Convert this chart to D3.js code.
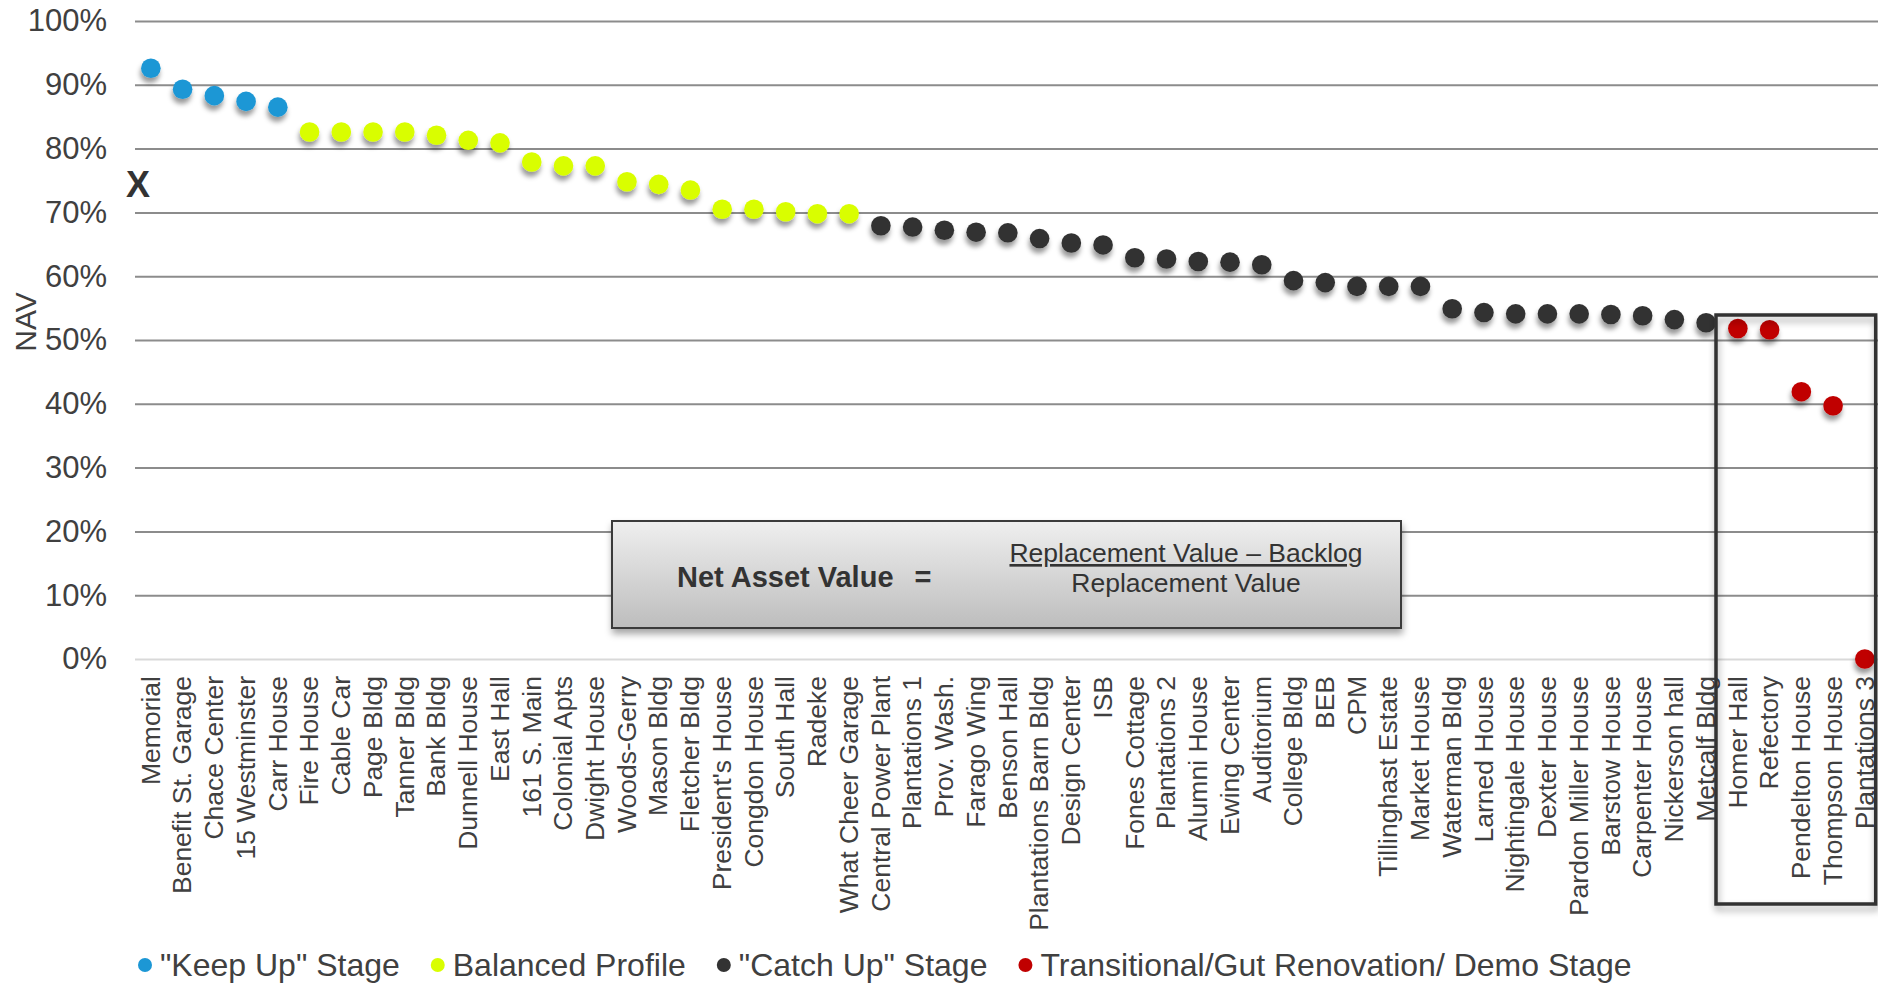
<!DOCTYPE html>
<html>
<head>
<meta charset="utf-8">
<script src="https://cdn.jsdelivr.net/npm/d3@7"></script>
<style>
  html, body { margin: 0; padding: 0; background: #fff; overflow: hidden; }
  svg { display: block; font-family: "Liberation Sans", Arial, Helvetica, sans-serif; }
</style>
</head>
<body>
<svg id="chart" width="1878" height="985"></svg>
<script>
// Buildings in ranked order, with their Net Asset Value (share of replacement value)
const buildings = [
  "Memorial", "Benefit St. Garage", "Chace Center", "15 Westminster", "Carr House",
  "Fire House", "Cable Car", "Page Bldg", "Tanner Bldg", "Bank Bldg", "Dunnell House",
  "East Hall", "161 S. Main", "Colonial Apts", "Dwight House", "Woods-Gerry", "Mason Bldg",
  "Fletcher Bldg", "President's House", "Congdon House", "South Hall", "Radeke",
  "What Cheer Garage", "Central Power Plant", "Plantations 1", "Prov. Wash.", "Farago Wing",
  "Benson Hall", "Plantations Barn Bldg", "Design Center", "ISB", "Fones Cottage",
  "Plantations 2", "Alumni House", "Ewing Center", "Auditorium", "College Bldg", "BEB",
  "CPM", "Tillinghast Estate", "Market House", "Waterman Bldg", "Larned House",
  "Nightingale House", "Dexter House", "Pardon Miller House", "Barstow House",
  "Carpenter House", "Nickerson hall", "Metcalf Bldg", "Homer Hall", "Refectory",
  "Pendelton House", "Thompson House", "Plantations 3"
];

const navValues = [
  0.926, 0.893, 0.883, 0.874, 0.865,
  0.826, 0.826, 0.826, 0.826, 0.821, 0.813,
  0.809, 0.779, 0.773, 0.773, 0.748, 0.744,
  0.735, 0.705, 0.705, 0.701, 0.698,
  0.698, 0.679, 0.677, 0.672, 0.669,
  0.668, 0.659, 0.652, 0.649, 0.629,
  0.627, 0.623, 0.622, 0.618, 0.593, 0.590,
  0.584, 0.584, 0.584, 0.549, 0.543,
  0.541, 0.541, 0.541, 0.540,
  0.538, 0.532, 0.527, 0.518, 0.516,
  0.419, 0.397, 0.000
];

// Lifecycle stage of each building (same order as above)
const buildingStages = [
  "keep", "keep", "keep", "keep", "keep",
  "balanced", "balanced", "balanced", "balanced", "balanced", "balanced",
  "balanced", "balanced", "balanced", "balanced", "balanced", "balanced",
  "balanced", "balanced", "balanced", "balanced", "balanced",
  "balanced", "catch", "catch", "catch", "catch",
  "catch", "catch", "catch", "catch", "catch",
  "catch", "catch", "catch", "catch", "catch", "catch",
  "catch", "catch", "catch", "catch", "catch",
  "catch", "catch", "catch", "catch",
  "catch", "catch", "catch", "transition", "transition",
  "transition", "transition", "transition"
];

const stageKeys   = ["keep", "balanced", "catch", "transition"];
const stageLabels = ["\"Keep Up\" Stage", "Balanced Profile", "\"Catch Up\" Stage", "Transitional/Gut Renovation/ Demo Stage"];
const stageColors = ["#1c97d5", "#d9fe00", "#333333", "#c00000"];

const yTicks = [0, 0.1, 0.2, 0.3, 0.4, 0.5, 0.6, 0.7, 0.8, 0.9, 1.0];
const targetNav = 0.745;          // marked with an "X" beside the axis
const transitionGroup = ["Homer Hall", "Plantations 3"]; // first and last of the boxed group

const W = 1878, H = 985;
const plotLeft = 135, bandStep = 31.74;
const svg = d3.select("#chart");
const textColor = "#404040";

const x = d3.scaleBand()
  .domain(buildings)
  .range([plotLeft, plotLeft + bandStep * buildings.length])
  .padding(0);
const y = d3.scaleLinear().domain([0, 1]).range([659, 21]);
const color = d3.scaleOrdinal().domain(stageKeys).range(stageColors);

// Filters for the soft drop shadows
const defs = svg.append("defs");
const dotShadow = defs.append("filter").attr("id", "dotShadow")
  .attr("x", "-60%").attr("y", "-60%").attr("width", "220%").attr("height", "240%");
dotShadow.append("feDropShadow").attr("dx", -1).attr("dy", 5).attr("stdDeviation", 2.5)
  .attr("flood-color", "#000").attr("flood-opacity", 0.4);
const boxShadow = defs.append("filter").attr("id", "boxShadow")
  .attr("x", "-5%").attr("y", "-10%").attr("width", "112%").attr("height", "130%");
boxShadow.append("feDropShadow").attr("dx", 1).attr("dy", 5).attr("stdDeviation", 3.5)
  .attr("flood-color", "#000").attr("flood-opacity", 0.35);
const grad = defs.append("linearGradient").attr("id", "boxFill")
  .attr("x1", 0).attr("y1", 0).attr("x2", 0).attr("y2", 1);
grad.append("stop").attr("offset", "0%").attr("stop-color", "#efefef");
grad.append("stop").attr("offset", "100%").attr("stop-color", "#bdbdbd");

// Y axis with full-width gridlines
const yAxis = svg.append("g")
  .attr("transform", `translate(${plotLeft},0)`)
  .call(d3.axisLeft(y)
    .tickValues(yTicks)
    .tickSize(-(W - plotLeft + 10))
    .tickPadding(28)
    .tickFormat(d3.format(".0%")));
yAxis.select(".domain").remove();
yAxis.selectAll(".tick line")
  .attr("stroke", d => d === 0 ? "#d9d9d9" : "#8c8c8c")
  .attr("stroke-width", 2);
yAxis.selectAll(".tick text")
  .attr("fill", textColor)
  .style("font-size", "31px");

// Axis title
svg.append("text")
  .attr("transform", "translate(36,322) rotate(-90)")
  .attr("text-anchor", "middle")
  .attr("fill", textColor)
  .style("font-size", "30px")
  .text("NAV");

// Target marker
svg.append("text")
  .attr("x", 138)
  .attr("y", y(targetNav))
  .attr("dy", "0.36em")
  .attr("text-anchor", "middle")
  .attr("fill", "#333")
  .style("font-size", "36px")
  .style("font-weight", "bold")
  .text("X");

// Building labels
const xAxis = svg.append("g")
  .attr("transform", `translate(0,${y(0)})`)
  .call(d3.axisBottom(x).tickSize(0));
xAxis.select(".domain").remove();
xAxis.selectAll(".tick text")
  .attr("transform", "rotate(-90)")
  .attr("x", -17)
  .attr("y", 0)
  .attr("dy", "0.33em")
  .attr("text-anchor", "end")
  .attr("fill", textColor)
  .style("font-size", "26.5px");

// Formula annotation
const fx = 612, fy = 521, fw = 789, fh = 107;
const formula = svg.append("g");
formula.append("rect")
  .attr("x", fx).attr("y", fy).attr("width", fw).attr("height", fh)
  .attr("fill", "url(#boxFill)")
  .attr("stroke", "#3a3a3a").attr("stroke-width", 2)
  .attr("filter", "url(#boxShadow)");
formula.append("text")
  .attr("x", 677).attr("y", 587)
  .attr("fill", "#333")
  .style("font-size", "29px").style("font-weight", "bold")
  .text("Net Asset Value");
formula.append("text")
  .attr("x", 923).attr("y", 587)
  .attr("text-anchor", "middle")
  .attr("fill", "#333")
  .style("font-size", "29px").style("font-weight", "bold")
  .text("=");
formula.append("text")
  .attr("x", 1186).attr("y", 562)
  .attr("text-anchor", "middle")
  .attr("fill", "#333")
  .style("font-size", "26.5px")
  .style("text-decoration", "underline")
  .text("Replacement Value \u2013 Backlog");
formula.append("text")
  .attr("x", 1186).attr("y", 592)
  .attr("text-anchor", "middle")
  .attr("fill", "#333")
  .style("font-size", "26.5px")
  .text("Replacement Value");

// Data points
const points = buildings.map((b, i) => ({ name: b, value: navValues[i], stage: buildingStages[i] }));
svg.append("g")
  .selectAll("circle")
  .data(points)
  .join("circle")
  .attr("cx", d => x(d.name) + x.bandwidth() / 2)
  .attr("cy", d => y(d.value))
  .attr("r", 9.8)
  .attr("fill", d => color(d.stage))
  .attr("filter", "url(#dotShadow)");

// Box around the transitional group
const gx0 = x(transitionGroup[0]) - 6;
const gx1 = x(transitionGroup[1]) + x.bandwidth() - 5;
svg.append("rect")
  .attr("x", gx0).attr("y", 315)
  .attr("width", gx1 - gx0).attr("height", 904 - 315)
  .attr("fill", "none")
  .attr("stroke", "#333").attr("stroke-width", 3.5)
  .attr("filter", "url(#boxShadow)");

// Legend
const legend = svg.append("g").attr("transform", "translate(0,965)");
let lx = 145;
stageKeys.forEach((k, i) => {
  const item = legend.append("g");
  item.append("circle").attr("cx", lx).attr("cy", 0).attr("r", 7).attr("fill", stageColors[i]);
  const t = item.append("text")
    .attr("x", lx + 15).attr("y", 0).attr("dy", "0.35em")
    .attr("fill", textColor)
    .style("font-size", "32px")
    .text(stageLabels[i]);
  lx = lx + 15 + t.node().getComputedTextLength() + 38;
});
</script>
</body>
</html>
